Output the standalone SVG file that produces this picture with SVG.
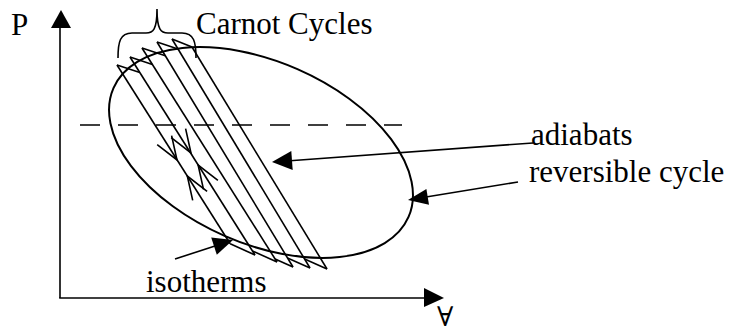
<svg xmlns="http://www.w3.org/2000/svg" width="734" height="333" viewBox="0 0 734 333">
<style>
.ln{stroke:#000;stroke-width:1.6;fill:none;stroke-linecap:butt;stroke-linejoin:miter}
.thick{stroke:#000;stroke-width:2;fill:none}
.head{fill:#000;stroke:none}
.txt{font-family:"Liberation Serif","Times New Roman",serif;font-size:31px;fill:#000}
.dash{stroke:#000;stroke-width:1.6;stroke-dasharray:20 18;fill:none}
</style>
<rect width="734" height="333" fill="#fff"/>
<g id="axes">
  <line class="ln" x1="60" y1="27" x2="60" y2="298"/>
  <line class="ln" x1="59.2" y1="298" x2="426" y2="298"/>
  <polygon class="head" points="61,10 51,28 71,28"/>
  <polygon class="head" points="444,298 424,288 424,307"/>
  <text class="txt" x="11" y="35">P</text>
  <text class="txt" x="437" y="326" style="font-family:'DejaVu Serif','Liberation Serif',serif;font-size:27px">∀</text>
</g>
<g id="dashed-line">
  <line class="dash" x1="80" y1="125" x2="402" y2="125"/>
</g>
<g id="reversible-cycle">
  <ellipse class="thick" cx="261" cy="152.5" rx="161" ry="91" transform="rotate(23.6 261 152.5)"/>
</g>
<g id="carnot-cycles">
  <polyline class="ln" points="117,65 230.2,243.8"/>
  <polyline class="ln" points="130,57 255,255"/>
  <polyline class="ln" points="142,48 277,262"/>
  <polyline class="ln" points="157,42 293,267"/>
  <polyline class="ln" points="172,39 310,268"/>
  <polyline class="ln" points="192,47 327,269"/>
  <polyline class="ln" points="117,65 139.8,72.5"/>
  <polyline class="ln" points="130,57 152.4,64.4"/>
  <polyline class="ln" points="142,48 165.3,55.7"/>
  <polyline class="ln" points="157,42 178,48.9"/>
  <polyline class="ln" points="172,39 192,47"/>
  <polyline class="ln" points="255,255 230.2,243.8"/>
  <polyline class="ln" points="277,262 252.4,250.9"/>
  <polyline class="ln" points="293,267 275.1,259"/>
  <polyline class="ln" points="310,268 287.5,257.9"/>
  <polyline class="ln" points="327,269 304.6,258.9"/>
  <polyline class="ln" points="171.6,135.6 177,160 157.2,144.7"/>
  <polyline class="ln" points="185.6,128.6 191,153 171.2,137.7"/>
  <polyline class="ln" points="192.7,200.4 187.3,176 207.1,191.3"/>
  <polyline class="ln" points="203.5,189.4 198.1,165 217.9,180.3"/>
</g>
<g id="brace">
  <path class="ln" d="M118,58 C118,42 120,33 132,33 L146,33 C153,33 157,30 157,9 C157,30 161,33 168,33 L182,33 C194,33 196,42 196,58"/>
</g>
<g id="label-carnot"><text class="txt" x="196" y="34">Carnot Cycles</text></g>
<g id="label-adiabats"><text class="txt" x="531" y="145">adiabats</text></g>
<g id="label-reversible"><text class="txt" x="529" y="182">reversible cycle</text></g>
<g id="label-isotherms"><text class="txt" x="146" y="292">isotherms</text></g>
<g id="connectors">
  <line class="ln" x1="533" y1="143" x2="290" y2="160.7"/>
  <polygon class="head" points="272,162 292.7,170 291.3,151"/>
  <line class="ln" x1="518" y1="182" x2="426" y2="197"/>
  <polygon class="head" points="408,200 429,204.7 426.4,188.9"/>
  <line class="ln" x1="175" y1="259" x2="215" y2="246"/>
  <polygon class="head" points="233,240 216.8,254.8 211.2,237.6"/>
</g>
</svg>
